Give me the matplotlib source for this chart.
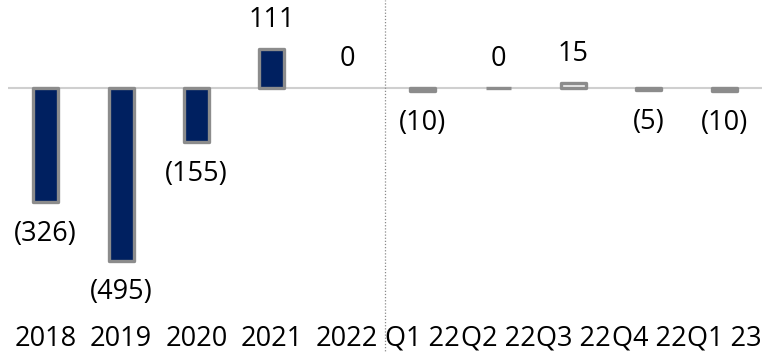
import matplotlib
matplotlib.use("Agg")
import matplotlib.pyplot as plt

categories = ["2018", "2019", "2020", "2021", "2022", "Q1 22", "Q2 22", "Q3 22", "Q4 22", "Q1 23"]
annual_values = [-326, -495, -155, 111, 0]
quarter_values = [-10, 0, 15, -5, -10]

plt.rcParams['font.family'] = ['Open Sans', 'DejaVu Sans']

W, H = 762, 353
fig = plt.figure(figsize=(W / 100, H / 100), dpi=100)
ax = fig.add_axes([8 / W, 1 - 318 / H, 1 - 8 / W, 318 / H])

px_per_unit = 0.3485
top_val = 88 / px_per_unit
bot_val = -(318 - 88) / px_per_unit
ax.set_ylim(bot_val, top_val)
ax.set_xlim(-0.5, len(categories) - 0.5)

navy = "#002060"
edge = "#8c8c8c"
bw = 0.33

n_a = len(annual_values)
xa = list(range(n_a))
xq = list(range(n_a, n_a + len(quarter_values)))

ax.axhline(0, color="#cfcfcf", lw=1.5, zorder=1)

lw_a = [0 if v == 0 else 2.4 for v in annual_values]
ax.bar(xa, annual_values, width=bw, color=navy, edgecolor=edge, linewidth=lw_a,
       joinstyle="round", zorder=3)
ax.bar(xq, quarter_values, width=bw, color="#f2f2f2", edgecolor=edge, linewidth=2.4,
       joinstyle="round", zorder=3)

def fmt(v):
    return f"({abs(v)})" if v < 0 else f"{v}"

fs = 19.5
for x, v in zip(xa + xq, annual_values + quarter_values):
    off = -23 if v < 0 else 21
    ax.annotate(fmt(v), (x, v), xytext=(0, off), textcoords="offset points",
                ha="center", va="center", fontsize=fs, color="black")

ax.axvline(n_a - 0.5, ymin=-0.12, ymax=1, color="#8a8a8a", lw=0.9, ls=(0, (1, 1.5)),
           clip_on=False, zorder=2)

ax.set_xticks(range(len(categories)))
ax.set_xticklabels(categories, fontsize=fs)
ax.tick_params(axis="x", length=0, pad=5)
ax.set_yticks([])
for s in ax.spines.values():
    s.set_visible(False)

fig.savefig("out.png", dpi=100)
